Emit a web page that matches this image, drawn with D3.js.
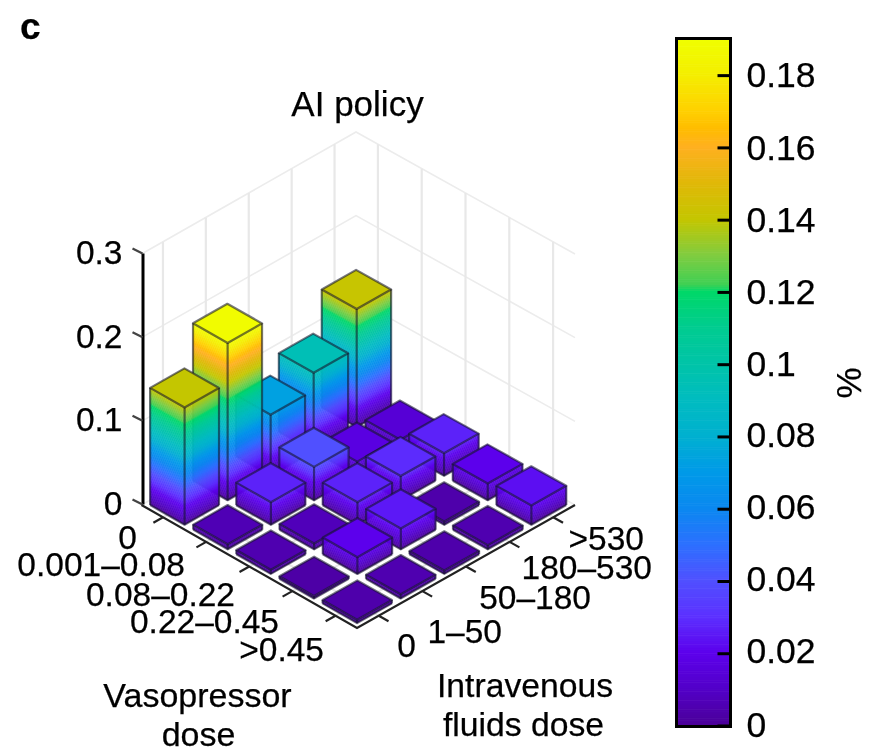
<!DOCTYPE html>
<html><head><meta charset="utf-8">
<style>html,body{margin:0;padding:0;background:#fff}svg{display:block}text{font-family:"Liberation Sans",Arial,sans-serif;fill:#000;stroke:#000;stroke-width:0.25px;filter:blur(0.3px)}#bars,#gridg,#axes{filter:blur(0.55px)}</style>
<script src="https://cdn.jsdelivr.net/npm/d3@7/dist/d3.min.js"></script>
</head><body><svg id="c" width="869" height="753"></svg>
<script>
const vasoLabels = ["0","0.001\u20130.08","0.08\u20130.22","0.22\u20130.45",">0.45"];
const fluidLabels = ["0","1\u201350","50\u2013180","180\u2013530",">530"];
// share of decisions (%), one row per vasopressor dose, columns = fluids dose
const vaso0 = [0.140,0.188,0.073,0.094,0.141];
const vaso1 = [0.006,0.027,0.040,0.017,0.014];
const vaso2 = [0.005,0.007,0.027,0.029,0.027];
const vaso3 = [0.003,0.020,0.025,0.004,0.020];
const vaso4 = [0.004,0.005,0.004,0.005,0.023];
const rows = [vaso0,vaso1,vaso2,vaso3,vaso4];
const zTicks = [0,0.1,0.2,0.3];
const cbTicks = [0,0.02,0.04,0.06,0.08,0.1,0.12,0.14,0.16,0.18];
const cmapValues = [0,0.01,0.02,0.03,0.04,0.05,0.06,0.07,0.08,0.09,0.10,0.11,0.12,0.122,0.13,0.14,0.15,0.16,0.165,0.17,0.18,0.19];
const cmapColors = ["#4b0098","#5200c8","#5c00ec","#5c30ff","#5050ff","#2c70ff","#0a88f0","#009ae8","#00b0d0","#00bcc0","#00c4a8","#00cc90","#00d868","#40d054","#80cc40","#c4c600","#e0b808","#ffb020","#ffbc00","#ffd000","#f4ee00","#f0ff00"];

const color = d3.scaleLinear().domain(cmapValues).range(cmapColors).clamp(true);
const svg = d3.select("#c");

// projection of the 3-D box: four floor corners, bilinear
const L=[141.5,505], F=[357,628], B=[356,383], R=[575,505];
const zPx = d3.scaleLinear().domain([0,0.3]).range([0,251]);
function P(u,v,z){
  const w=[(1-u)*(1-v),u*(1-v),(1-u)*v,u*v];
  return [w[0]*L[0]+w[1]*F[0]+w[2]*B[0]+w[3]*R[0],
          w[0]*L[1]+w[1]*F[1]+w[2]*B[1]+w[3]*R[1]-zPx(z)];
}
const uBand = d3.scaleBand().domain(vasoLabels).range([0,1]).paddingInner(0.2).paddingOuter(0.1);
const vBand = d3.scaleBand().domain(fluidLabels).range([0,1]).paddingInner(0.2).paddingOuter(0.1);
const line = d3.line();
const poly = pts => line(pts)+"Z";

// walls and grid
const grid = svg.append("g").attr("id","gridg").attr("fill","none").attr("stroke","#e8e8e8");
zTicks.forEach(z=>grid.append("path").attr("stroke-width",1.6).attr("stroke","#ececec").attr("d",line([P(0,0,z),P(0,1,z),P(1,1,z)])));
vasoLabels.forEach(d=>{const u=uBand(d)+uBand.bandwidth()/2;
  grid.append("path").attr("stroke-width",2.2).attr("d",line([P(u,1,0.3),P(u,1,0),P(u,0,0)]));});
fluidLabels.forEach(d=>{const v=vBand(d)+vBand.bandwidth()/2;
  grid.append("path").attr("stroke-width",2.2).attr("d",line([P(0,v,0.3),P(0,v,0),P(1,v,0)]));});

// axis edges with ticks
const axes = svg.append("g").attr("id","axes").attr("fill","none").attr("stroke","#222").attr("stroke-width",2.2);
axes.append("path").attr("d",line([L,F,R]));
vasoLabels.forEach(d=>{const u=uBand(d)+uBand.bandwidth()/2;
  axes.append("path").attr("d",line([P(u,0,0),P(u,-0.045,0)]));});
fluidLabels.forEach(d=>{const v=vBand(d)+vBand.bandwidth()/2;
  axes.append("path").attr("d",line([P(1,v,0),P(1.045,v,0)]));});

// bars, painted back to front
const cells = [];
rows.forEach((r,i)=>r.forEach((val,j)=>cells.push({i,j,val})));
cells.sort((a,b)=>(a.i-a.j)-(b.i-b.j));
const barsG = svg.append("g").attr("id","bars");
cells.forEach(c=>{
  const g = barsG.append("g");
  const u0=uBand(vasoLabels[c.i]), u1=u0+uBand.bandwidth();
  const v0=vBand(fluidLabels[c.j]), v1=v0+vBand.bandwidth();
  const a=[u0,v0], b=[u1,v0], d=[u1,v1], e=[u0,v1];
  const faces=[[a,b],[b,d]];
  const steps=d3.range(0,c.val,0.0015);
  faces.forEach(([s,t])=>{
    g.selectAll(null).data(steps).join("path")
      .attr("d",z=>{const z1=Math.min(z+0.0015,c.val);
        return poly([P(s[0],s[1],z),P(t[0],t[1],z),P(t[0],t[1],z1),P(s[0],s[1],z1)]);})
      .attr("fill",z=>color(z+0.00075)).attr("stroke",z=>color(z+0.00075)).attr("stroke-width",0.5);
  });
  g.append("path").attr("d",poly([a,b,d,e].map(q=>P(q[0],q[1],c.val)))).attr("fill",color(c.val));
  const edge=g.append("g").attr("fill","none").attr("stroke","#14142a").attr("stroke-opacity",0.58).attr("stroke-width",2.2).attr("stroke-linejoin","round");
  edge.append("path").attr("d",poly([a,b,d,e].map(q=>P(q[0],q[1],c.val))));
  edge.append("path").attr("d",line([P(a[0],a[1],0),P(b[0],b[1],0),P(d[0],d[1],0)]));
  [a,b,d].forEach(q=>edge.append("path").attr("d",line([P(q[0],q[1],0),P(q[0],q[1],c.val)])));
});

// z axis
const zY = d3.scaleLinear().domain([0,0.3]).range([L[1]-1,L[1]-252]);
const zAxis = svg.append("g").attr("transform",`translate(${L[0]+1},0)`)
  .call(d3.axisLeft(zY).tickValues(zTicks).tickSize(0).tickPadding(20).tickFormat(d=>String(d)));
zAxis.select(".domain").attr("stroke","#000").attr("stroke-width",3);
zAxis.selectAll("text").style("font-size","33.5px").attr("dy","0.31em");
zAxis.attr("font-family",null);
zAxis.selectAll(".tick line").attr("x2",-10).attr("y2",-5).attr("stroke","#444").attr("stroke-width",2.2);

// colour bar
const cbY = d3.scaleLinear().domain([0,0.19]).range([725.5,39]);
const cb = svg.append("g");
cb.selectAll(null).data(d3.range(0,0.19,0.0005)).join("rect")
  .attr("x",677).attr("width",53).attr("y",d=>cbY(d+0.0005)).attr("height",d=>cbY(d)-cbY(d+0.0005)+0.6)
  .attr("fill",d=>color(d));
const cbAxis = svg.append("g").attr("transform","translate(730.5,0)")
  .call(d3.axisRight(cbY).tickValues(cbTicks).tickSize(-13).tickPadding(29).tickFormat(d=>String(d)));
cbAxis.select(".domain").remove();
cbAxis.selectAll(".tick line").attr("stroke","#000").attr("stroke-width",3);
cbAxis.selectAll("text").style("font-size","35.5px").attr("x",16).attr("dy",d=>d===0?"0.3em":(d<=0.08?"0.27em":"0.33em"));
cbAxis.attr("font-family",null);
svg.append("rect").attr("x",676.5).attr("y",38.5).attr("width",54).attr("height",688).attr("fill","none").attr("stroke","#000").attr("stroke-width",3);

// text
function label(t,x,y,size,anchor,weight){
  return svg.append("text").attr("x",x).attr("y",y).attr("text-anchor",anchor||"start")
    .style("font-size",size+"px").style("font-weight",weight||"normal").text(t);
}
const vasoLabelEnd = [137,185,235,279,324];
const vasoLabelBase = [549,576,606,633,661];
vasoLabels.forEach((t,i)=>label(t,vasoLabelEnd[i],vasoLabelBase[i],33.5,"end"));
const fluidLabelEnd = [416,502,591,652,644];
const fluidLabelBase = [657,643,609,579,550];
fluidLabels.forEach((t,i)=>label(t,fluidLabelEnd[i],fluidLabelBase[i],33.5,"end"));
label("c",20,39,37,"start","bold");
label("AI policy",357.5,116,35,"middle");
label("Vasopressor",197.5,707,34,"middle");
label("dose",198.5,746,34,"middle");
label("Intravenous",525,697,33.7,"middle");
label("fluids dose",523.5,736,33.7,"middle");
svg.append("text").attr("transform","translate(861,383) rotate(-90)").attr("text-anchor","middle").style("font-size","35px").text("%");
</script></body></html>
